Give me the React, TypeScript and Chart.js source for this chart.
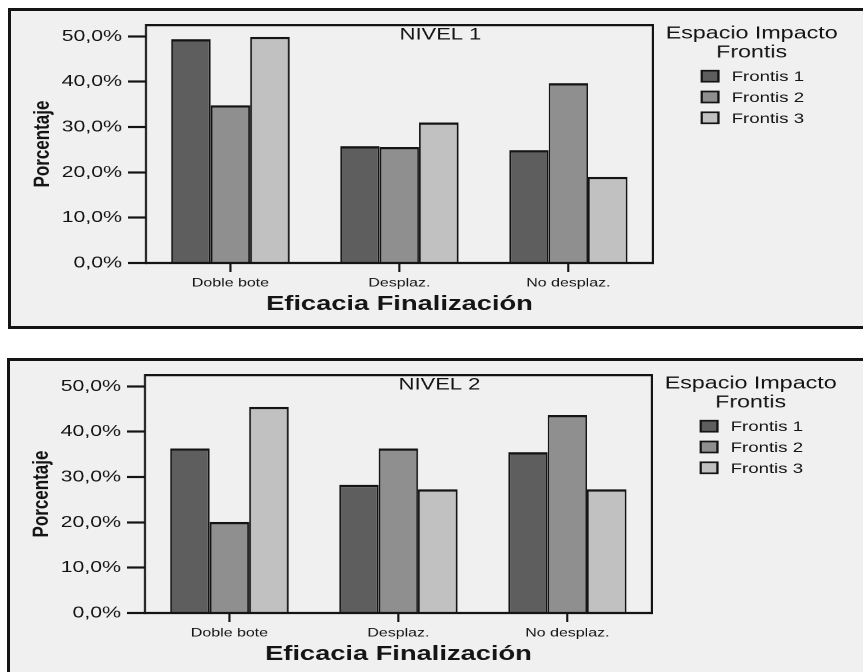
import React, { useEffect, useRef } from "react";
import { Chart, registerables } from "chart.js";

Chart.register(...registerables);

// ---------- data ----------
const categories = ["Doble bote", "Desplaz.", "No desplaz."];
const seriesLabels = ["Frontis 1", "Frontis 2", "Frontis 3"];
const seriesColors = ["#5e5e5e", "#8f8f8f", "#c1c1c1"];

const nivel1Frontis1 = [49.4, 25.8, 24.9];
const nivel1Frontis2 = [34.8, 25.6, 39.7];
const nivel1Frontis3 = [49.9, 31.0, 19.0];

const nivel2Frontis1 = [36.3, 28.3, 35.5];
const nivel2Frontis2 = [20.1, 36.3, 43.7];
const nivel2Frontis3 = [45.5, 27.3, 27.3];

const yMin = 0;
const yMax = 52.5;
const yStep = 10;

const panelTitles = ["NIVEL 1", "NIVEL 2"];
const legendTitle = ["Espacio Impacto", "Frontis"];
const xTitle = "Eficacia Finalización";
const yTitle = "Porcentaje";

// ---------- layout ----------
const FONT = "'Liberation Sans', Arial, Helvetica, sans-serif";
const SX = 1.33; // horizontal stretch of the reference
const CW = 637; // canvas drawing width
const CH = 315; // canvas drawing height
const INK = "#141414";
const TXT = "#141414";

function fmtPct(v: number) {
  return v.toFixed(1).replace(".", ",") + "%";
}

function makeDecorPlugin(title: string) {
  return {
    id: "decor",
    afterDraw(chart: any) {
      const ctx = chart.ctx as CanvasRenderingContext2D;
      const a = chart.chartArea;
      ctx.save();
      // frame
      ctx.strokeStyle = INK;
      ctx.lineWidth = 2.2;
      ctx.beginPath();
      ctx.moveTo(a.left, a.top);
      ctx.lineTo(a.right, a.top);
      ctx.moveTo(a.left, a.bottom);
      ctx.lineTo(a.right, a.bottom);
      ctx.stroke();
      ctx.lineWidth = 1.6;
      ctx.beginPath();
      ctx.moveTo(a.left, a.top - 1.1);
      ctx.lineTo(a.left, a.bottom + 1.1);
      ctx.moveTo(a.right, a.top - 1.1);
      ctx.lineTo(a.right, a.bottom + 1.1);
      ctx.stroke();

      ctx.fillStyle = TXT;
      // panel title
      ctx.font = `16.5px ${FONT}`;
      ctx.textAlign = "center";
      ctx.textBaseline = "alphabetic";
      ctx.fillText(title, 323, 28.5);

      // x title
      ctx.font = `bold 20.5px ${FONT}`;
      ctx.fillText(xTitle, (a.left + a.right) / 2, 299);

      // y title
      ctx.save();
      ctx.translate(23.7, (a.top + a.bottom) / 2);
      ctx.rotate(-Math.PI / 2);
      ctx.font = `bold 17px ${FONT}`;
      ctx.textBaseline = "middle";
      ctx.fillText(yTitle, 0, 0);
      ctx.restore();

      // legend
      ctx.font = `17.5px ${FONT}`;
      ctx.textAlign = "center";
      ctx.fillText(legendTitle[0], 557, 27.5);
      ctx.fillText(legendTitle[1], 557, 46.5);
      ctx.font = `14px ${FONT}`;
      ctx.textAlign = "left";
      chart.data.datasets.forEach((ds: any, i: number) => {
        const by = 59.7 + i * 20.8;
        ctx.fillStyle = ds.backgroundColor;
        ctx.fillRect(519.5, by, 12.5, 11);
        ctx.strokeStyle = INK;
        ctx.lineWidth = 1.7;
        ctx.strokeRect(519.5, by, 12.5, 11);
        ctx.fillStyle = TXT;
        ctx.fillText(ds.label, 542, by + 10.5);
      });
      ctx.restore();
    },
  };
}

function Panel(props: {
  title: string;
  series: number[][];
  left: number;
  top: number;
}) {
  const ref = useRef<HTMLCanvasElement | null>(null);
  useEffect(() => {
    const canvas = ref.current;
    if (!canvas) return;
    const chart = new Chart(canvas, {
      type: "bar",
      data: {
        labels: categories,
        datasets: props.series.map((vals, i) => ({
          label: seriesLabels[i],
          data: vals,
          backgroundColor: seriesColors[i],
          borderColor: INK,
          borderWidth: { top: 2.4, left: 1.35, right: 1.35, bottom: 0 },
          borderSkipped: false,
          categoryPercentage: 0.7,
          barPercentage: 1.0,
        })),
      },
      options: {
        responsive: false,
        animation: false,
        devicePixelRatio: 2,
        layout: { padding: { left: 0, top: 6.7, right: CW - 482.7, bottom: 0 } },
        plugins: {
          legend: { display: false },
          title: { display: false },
          tooltip: { enabled: false },
        },
        scales: {
          x: {
            type: "category",
            offset: true,
            afterFit: (s: any) => {
              s.height = 63;
            },
            grid: {
              offset: false,
              drawOnChartArea: false,
              drawTicks: true,
              tickLength: 9,
              tickWidth: 1.6,
              tickColor: INK,
              color: INK,
            },
            border: { display: false },
            ticks: {
              color: TXT,
              font: { family: FONT, size: 12 },
              padding: 3.8,
              maxRotation: 0,
              autoSkip: false,
            },
          },
          y: {
            type: "linear",
            min: yMin,
            max: yMax,
            afterFit: (s: any) => {
              s.width = 101.5;
            },
            grid: {
              drawOnChartArea: false,
              drawTicks: true,
              tickLength: 13.5,
              tickWidth: 2.2,
              tickColor: INK,
              color: INK,
            },
            border: { display: false },
            ticks: {
              stepSize: yStep,
              includeBounds: false,
              color: TXT,
              font: { family: FONT, size: 16 },
              padding: 4.5,
              callback: (v: any) => fmtPct(Number(v)),
            },
          },
        },
      },
      plugins: [makeDecorPlugin(props.title)],
    } as any);
    return () => chart.destroy();
  }, []);

  return (
    <div
      style={{
        position: "absolute",
        left: props.left,
        top: props.top,
        width: 880,
        height: 315,
        border: `3px solid ${INK}`,
        background: "#f0f0f0",
        overflow: "hidden",
      }}
    >
      <canvas
        ref={ref}
        width={CW}
        height={CH}
        style={{
          position: "absolute",
          left: 0,
          top: 0,
          width: `${Math.round(CW * SX)}px`,
          height: `${CH}px`,
        }}
      />
    </div>
  );
}

export default function App() {
  return (
    <div
      style={{
        position: "fixed",
        left: 0,
        top: 0,
        right: 0,
        bottom: 0,
        overflow: "hidden",
        background: "#ffffff",
      }}
    >
      <Panel
        title={panelTitles[0]}
        series={[nivel1Frontis1, nivel1Frontis2, nivel1Frontis3]}
        left={8}
        top={8}
      />
      <Panel
        title={panelTitles[1]}
        series={[nivel2Frontis1, nivel2Frontis2, nivel2Frontis3]}
        left={7}
        top={358}
      />
    </div>
  );
}
